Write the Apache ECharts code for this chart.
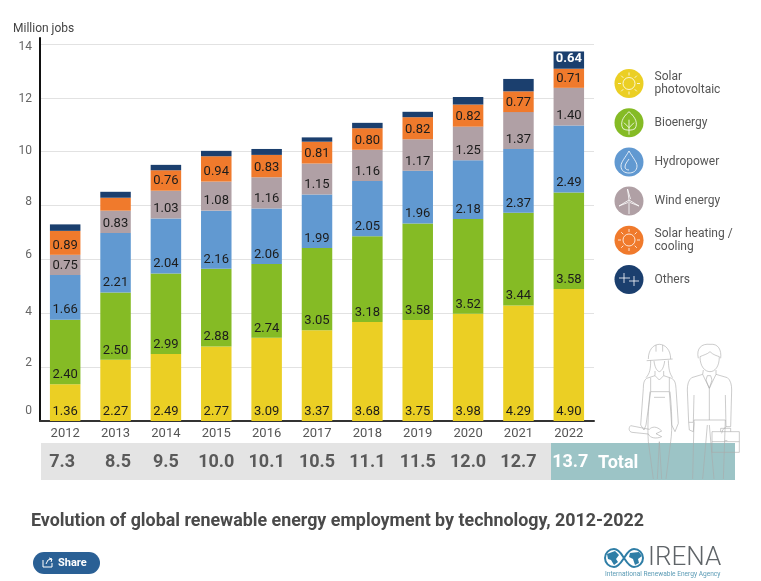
<!DOCTYPE html>
<html>
<head>
<meta charset="utf-8">
<title>Renewable energy employment</title>
<script src="https://cdn.jsdelivr.net/npm/echarts@6/dist/echarts.min.js"></script>
<style>
html,body{margin:0;padding:0;background:#fff}
#main{width:761px;height:581px}
</style>
</head>
<body>
<div id="main"></div>
<script>
var years = ['2012','2013','2014','2015','2016','2017','2018','2019','2020','2021','2022'];
var totals = ['7.3','8.5','9.5','10.0','10.1','10.5','11.1','11.5','12.0','12.7','13.7'];
var solarPv = [1.36,2.27,2.49,2.77,3.09,3.37,3.68,3.75,3.98,4.29,4.90];
var bioenergy = [2.40,2.50,2.99,2.88,2.74,3.05,3.18,3.58,3.52,3.44,3.58];
var hydropower = [1.66,2.21,2.04,2.16,2.06,1.99,2.05,1.96,2.18,2.37,2.49];
var wind = [0.75,0.83,1.03,1.08,1.16,1.15,1.16,1.17,1.25,1.37,1.40];
var solarHeat = [0.89,0.48,0.76,0.94,0.83,0.81,0.80,0.82,0.82,0.77,0.71];
var others = [0.24,0.22,0.20,0.20,0.22,0.16,0.20,0.20,0.28,0.46,0.64];
var yTicks = [0,2,4,6,8,10,12,14];

// the source's tick labels sit a little off their gridlines (px up)
var yLabelLift = {0:10,2:4,4:1,6:4,8:4,10:1,12:-1,14:-3};
var yRich = {};
yTicks.forEach(function(t){
	yRich['t'+t] = {fontSize:12,color:'#666',padding:yLabelLift[t]>0?[0,0,yLabelLift[t]*2,0]:[-yLabelLift[t]*2,0,0,0]};
});

function barSeries(name,data,color,hidden){
	return {
		name:name,
		type:'bar',
		stack:'jobs',
		barWidth:30.5,
		data:data,
		itemStyle:{color:color},
		label:{
			show:true,
			position:'insideBottom',
			distance:3,
			fontSize:13,
			color:'#1c1c1c',
			formatter:function(p){
				return hidden.indexOf(p.dataIndex)>=0 ? '' : p.value.toFixed(2);
			}
		}
	};
}

var seriesList = [
	barSeries('Solar\nphotovoltaic',solarPv,'#ebcf24',[]),
	barSeries('Bioenergy',bioenergy,'#85bb25',[]),
	barSeries('Hydropower',hydropower,'#6199d1',[]),
	barSeries('Wind energy',wind,'#b0a0a5',[]),
	barSeries('Solar heating /\ncooling',solarHeat,'#f07a2c',[1]),
	barSeries('Others',others,'#1b3f6e',[0,1,2,3,4,5,6,7,8,9])
];
seriesList[5].label.color = '#fff';
seriesList[5].label.fontWeight = 'bold';

var sun = 'M-6 0A6 6 0 1 1 6 0A6 6 0 1 1 -6 0Z M0 -8L0 -11 M0 8L0 11 M-8 0L-11 0 M8 0L11 0 M-5.7 -5.7L-7.8 -7.8 M5.7 -5.7L7.8 -7.8 M-5.7 5.7L-7.8 7.8 M5.7 5.7L7.8 7.8';
var leaf = 'M0 -11C7 -5 9 1 6 6C3 8 -3 8 -6 6C-9 1 -7 -5 0 -11Z M0 -3L0 12 M0 5L-5 0 M0 5L5 0';
var drop = 'M0 -11C4 -4 8 0 8 4C8 9 4 11 0 11C-4 11 -8 9 -8 4C-8 0 -4 -4 0 -11Z M0 -3C-2 0 -4 2 -4 5C-4 7 -2 8 0 8';
var turbine = 'M0 -1L0 13 M0 -1L-1.5 -12L1.5 -2 M0 -1L10 5L1 1.5 M0 -1L-10 5L-1 1.5';
var plus = 'M-10 -1L1 -1 M-5 -6L-5 4 M0 2L10 2 M5 -3L5 7';

// worker line art, drawn in crop coordinates (scaled 1/3)
var woman = 'M85 72C85 45 100 28 118 28C136 28 152 45 152 72 M80 77L158 72 M108 30L108 50 M128 30L128 50'
	+' M102 78C104 95 110 108 118 110C126 108 132 95 134 78'
	+' M92 76C92 100 90 115 78 128 M145 76C146 100 148 115 158 128'
	+' M105 108L105 122L118 135L131 122L131 108'
	+' M105 122L80 130C72 135 70 145 70 160L62 270L72 285L78 270L92 170'
	+' M131 122L155 130C165 135 167 145 168 160L175 265L165 290L155 270L148 170'
	+' M92 128L92 170L148 170L148 128 M102 187L135 187'
	+' M90 170C85 220 82 280 85 320L100 432 M150 170C155 220 158 280 152 320L138 432 M118 320L112 432 M118 320L125 432'
	+' M32 272C25 278 26 290 36 292L85 297C90 310 110 312 125 305L108 296L125 288C110 272 95 275 88 283Z';
var man = 'M235 70C228 40 245 25 270 28C295 25 305 45 302 70 M240 65C250 60 262 58 270 50C280 60 290 62 298 65'
	+' M240 65C240 95 255 110 270 110C285 110 298 95 298 65'
	+' M250 105L248 118L268 160L288 118L288 105 M262 122L258 135L268 160L276 135L272 122Z'
	+' M248 118L215 128C205 135 202 150 202 165L206 262L220 262L222 180'
	+' M288 118L322 128C332 135 335 150 335 165L332 275L318 275L316 180'
	+' M222 255L316 255 M268 160L268 255 M206 262L208 285L220 290L222 262 M318 275L308 285L305 295'
	+' M222 255L218 432 M316 255L310 432 M262 270L248 432 M268 270L282 432'
	+' M276 290L358 290L358 352L276 352Z M276 320L358 320 M302 290L302 280L332 280L332 290 M314 317L322 317';
var shareGlyph = 'M0 2L0 9L9 9L9 5 M3 6L5 2L9 1 M6 0L9 1L8 4';
var logoLoop = 'M10 1A9 9 0 1 0 10 19C15 19 18 13 20 10C22 7 25 1 30 1A9 9 0 1 1 30 19C25 19 22 13 20 10C18 7 15 1 10 1Z';
var logoLand = 'M3 6L11 3L15 7L12 11L14 14L10 17L7 12L4 11Z M26 5L35 4L38 8L34 11L35 15L31 17L29 11L25 9Z';

// graphic has no plain path type, so each drawing is registered as a shape
var shapes = {sunIcon:sun,leafIcon:leaf,dropIcon:drop,turbineIcon:turbine,plusIcon:plus,
	woman:woman,man:man,shareGlyph:shareGlyph,logoLoop:logoLoop,logoLand:logoLand};
Object.keys(shapes).forEach(function(k){
	echarts.graphic.registerShape(k,echarts.graphic.extendPath(shapes[k],{}));
});

function iconPath(cx,cy,type){
	return {type:type,z:20,x:cx,y:cy,style:{fill:'none',stroke:'#fff',lineWidth:1,opacity:0.8}};
}

var chart = echarts.init(document.getElementById('main'));
chart.setOption({
	animation:false,
	textStyle:{fontFamily:'Roboto'},
	title:[{
		text:'Million jobs',left:8,top:18,
		textStyle:{fontSize:12,fontWeight:'normal',color:'#444',fontFamily:'Roboto'}
	},{
		text:'Evolution of global renewable energy employment by technology, 2012-2022',left:26,top:508,
		textStyle:{fontSize:17.85,fontWeight:'bold',color:'#4a4a4a',fontFamily:'Roboto'}
	}],
	legend:{
		orient:'vertical',
		left:609.5,
		top:64,
		itemWidth:29,
		itemHeight:29,
		itemGap:10.2,
		icon:'circle',
		selectedMode:false,
		textStyle:{fontSize:12,color:'#555',lineHeight:13,padding:[0,0,0,6]}
	},
	grid:{left:40,right:167,top:38,bottom:160},
	xAxis:[{
		type:'category',
		data:years,
		axisTick:{show:false},
		axisLine:{lineStyle:{color:'#333',width:2}},
		axisLabel:{fontSize:13,color:'#555',margin:6,interval:0}
	},{
		type:'category',
		position:'bottom',
		offset:32,
		data:totals,
		axisTick:{show:false},
		axisLine:{show:false},
		axisLabel:{
			margin:0,
			interval:0,
			hideOverlap:false,
			formatter:function(v,i){
				if(i===10) return '{w|'+v+'}';
				if(i===0) return '{l|'+v+'}';
				if(i===1) return '{r|'+v+'}';
				return '{g|'+v+'}';
			},
			rich:{
				g:{fontSize:18,fontWeight:'bold',color:'#5a5a5a'},
				l:{fontSize:18,fontWeight:'bold',color:'#5a5a5a',padding:[0,6,0,0]},
				r:{fontSize:18,fontWeight:'bold',color:'#5a5a5a',padding:[0,0,0,5]},
				w:{fontSize:18,fontWeight:'bold',color:'#fff',padding:[0,0,0,3]}
			}
		}
	}],
	yAxis:{
		type:'value',
		min:0,
		max:14.22,
		interval:2,
		axisTick:{show:false},
		axisLine:{show:true,onZero:false,lineStyle:{color:'#111',width:2}},
		splitLine:{show:true,showMinLine:false,showMaxLine:false,lineStyle:{color:'#e2e2e2',width:1}},
		axisLabel:{
			margin:8,
			showMaxLabel:false,
			formatter:function(v){ return '{t'+v+'|'+v+'}'; },
			rich:yRich
		}
	},
	series:seriesList,
	graphic:[
		{type:'rect',z:-1,shape:{x:41,y:443,width:510,height:37},style:{fill:'#e4e4e4'}},
		{type:'rect',z:-1,shape:{x:551,y:443,width:184,height:37},style:{fill:'#9cc4c6'}},
		{type:'text',z:20,x:598,y:463,style:{text:'Total',fontFamily:'Roboto',fontSize:18,fontWeight:'bold',fill:'#fff',verticalAlign:'middle'}},
		iconPath(629,83.5,'sunIcon'),
		iconPath(629,122.7,'leafIcon'),
		iconPath(629,162,'dropIcon'),
		iconPath(629,201,'turbineIcon'),
		iconPath(629,240,'sunIcon'),
		iconPath(629,279,'plusIcon'),
		{type:'woman',z:15,x:620,y:335,scaleX:1/3,scaleY:1/3,style:{fill:'none',stroke:'#a9a9a9',lineWidth:2.4,opacity:0.75}},
		{type:'man',z:15,x:620,y:335,scaleX:1/3,scaleY:1/3,style:{fill:'none',stroke:'#a9a9a9',lineWidth:2.4,opacity:0.75}},
		// share button
		{type:'rect',z:5,shape:{x:33,y:552,width:67,height:22,r:11},style:{fill:'#2a6095'}},
		{type:'shareGlyph',z:6,x:43,y:558,style:{fill:'none',stroke:'#fff',lineWidth:1}},
		{type:'text',z:6,x:58,y:563,style:{text:'Share',fontFamily:'Roboto',fontSize:11,fontWeight:'bold',fill:'#fff',verticalAlign:'middle'}},
		// IRENA logo
		{type:'logoLoop',z:5,x:604,y:548,style:{fill:'none',stroke:'#2f7ea6',lineWidth:2}},
		{type:'logoLand',z:5,x:604,y:548,style:{fill:'#2f7ea6'}},
		{type:'text',z:5,x:648,y:558,style:{text:'IRENA',fontFamily:'Roboto',fontSize:26,fontWeight:300,fill:'#5f6468',verticalAlign:'middle'}},
		{type:'text',z:5,x:605,y:574,style:{text:'International Renewable Energy Agency',fontFamily:'Roboto',fontSize:6.6,fill:'#5b9bb5',verticalAlign:'middle'}}
	]
});
</script>
</body>
</html>
